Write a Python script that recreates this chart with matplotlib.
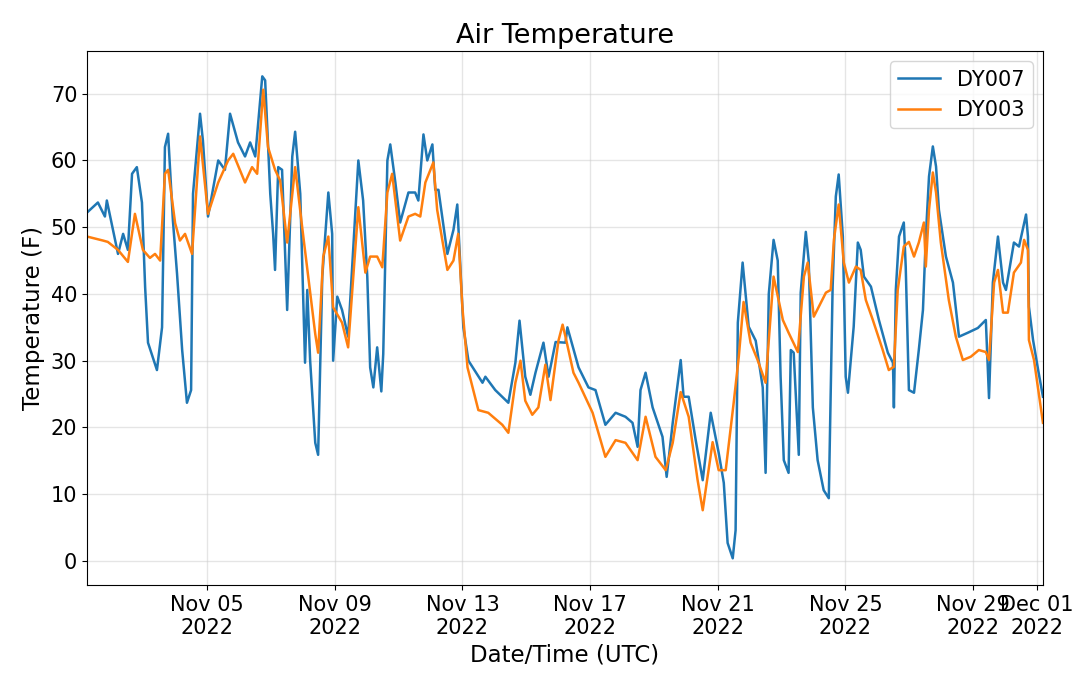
import numpy as np
import pandas as pd
import matplotlib
matplotlib.use("Agg")
import matplotlib.pyplot as plt
import matplotlib.dates as mdates

# --- Data (days since 2022-11-01 00:00 UTC, temperature in F) ---
START = pd.Timestamp("2022-11-01")

dy007_days = [0.24, 0.58, 0.80, 0.86, 1.21, 1.37, 1.52, 1.65, 1.80, 1.96,
              2.06, 2.15, 2.43, 2.59, 2.68, 2.78, 2.93, 3.06, 3.22, 3.37,
              3.50, 3.56, 3.78, 3.87, 4.03, 4.35, 4.56, 4.72, 4.97, 5.19,
              5.35, 5.51, 5.73, 5.82, 5.98, 6.07, 6.13, 6.23, 6.35, 6.51,
              6.67, 6.76, 6.92, 7.07, 7.14, 7.23, 7.39, 7.48, 7.61, 7.80,
              7.92, 7.95, 8.08, 8.23, 8.42, 8.74, 8.89, 9.02, 9.11, 9.21,
              9.33, 9.46, 9.52, 9.65, 9.74, 9.90, 10.05, 10.31, 10.52, 10.62,
              10.78, 10.90, 11.06, 11.15, 11.25, 11.53, 11.72, 11.84, 11.94, 12.03,
              12.19, 12.63, 12.72, 13.03, 13.44, 13.66, 13.79, 13.97, 14.13, 14.29,
              14.54, 14.70, 14.92, 15.23, 15.29, 15.64, 15.95, 16.17, 16.48, 16.80,
              17.11, 17.33, 17.49, 17.58, 17.74, 17.96, 18.27, 18.40, 18.59, 18.84,
              18.93, 19.09, 19.31, 19.53, 19.78, 20.03, 20.19, 20.31, 20.47, 20.56,
              20.63, 20.78, 20.97, 21.19, 21.41, 21.50, 21.60, 21.75, 21.88, 21.97,
              22.07, 22.22, 22.29, 22.38, 22.54, 22.60, 22.76, 22.85, 22.98, 23.13,
              23.32, 23.48, 23.60, 23.70, 23.79, 23.92, 24.01, 24.08, 24.17, 24.26,
              24.39, 24.48, 24.58, 24.80, 25.05, 25.33, 25.49, 25.52, 25.58, 25.68,
              25.83, 25.89, 25.99, 26.15, 26.30, 26.43, 26.52, 26.62, 26.74, 26.84,
              26.93, 27.15, 27.37, 27.56, 27.84, 28.15, 28.40, 28.50, 28.62, 28.78,
              28.94, 29.03, 29.28, 29.44, 29.66, 29.72, 29.75, 29.88, 30.04, 30.19]
dy007_temp = [52.2, 53.7, 51.6, 54.0, 46.0, 49.0, 46.6, 58.0, 59.0, 53.7,
              41.0, 32.7, 28.6, 35.0, 62.0, 64.0, 51.0, 43.0, 31.6, 23.7,
              25.6, 55.0, 67.0, 63.0, 51.6, 60.0, 58.6, 67.0, 62.7, 60.6,
              62.7, 60.6, 72.6, 72.0, 55.0, 49.0, 43.6, 59.0, 58.6, 37.6,
              60.6, 64.3, 55.0, 29.7, 40.6, 30.0, 17.7, 15.9, 42.6, 55.2,
              49.0, 30.0, 39.6, 37.6, 33.6, 60.0, 54.0, 42.6, 29.0, 26.0,
              32.0, 25.4, 31.0, 60.0, 62.4, 56.7, 50.7, 55.2, 55.2, 54.0,
              63.9, 60.0, 62.4, 55.6, 55.6, 46.0, 49.6, 53.4, 43.6, 35.0,
              30.0, 26.7, 27.6, 25.6, 23.7, 29.7, 36.0, 27.6, 24.9, 28.2,
              32.7, 27.6, 32.8, 32.7, 35.0, 29.0, 26.0, 25.6, 20.4, 22.2,
              21.6, 20.7, 17.1, 25.6, 28.2, 23.0, 18.6, 12.6, 20.7, 30.1,
              24.6, 24.6, 18.1, 12.1, 22.2, 16.2, 11.7, 2.7, 0.4, 4.6,
              35.7, 44.7, 35.1, 33.0, 26.0, 13.2, 40.0, 48.1, 45.0, 27.6,
              15.1, 13.2, 31.6, 31.2, 15.9, 40.2, 49.3, 45.0, 23.0, 15.1,
              10.6, 9.4, 41.1, 54.6, 57.9, 48.6, 27.6, 25.2, 30.1, 35.1,
              47.7, 46.6, 42.6, 41.1, 36.1, 31.2, 29.7, 23.0, 40.6, 48.6,
              50.7, 44.1, 25.6, 25.2, 31.6, 37.6, 48.6, 57.6, 62.1, 59.1,
              52.6, 45.6, 41.7, 33.6, 34.2, 34.9, 36.1, 24.4, 41.7, 48.6,
              41.7, 40.6, 47.7, 47.1, 51.9, 48.6, 38.1, 33.1, 28.6, 24.6]

dy003_days = [0.24, 0.74, 0.89, 1.21, 1.52, 1.74, 1.99, 2.21, 2.37, 2.53,
              2.68, 2.78, 3.00, 3.15, 3.31, 3.53, 3.78, 4.03, 4.35, 4.66,
              4.82, 5.19, 5.41, 5.57, 5.76, 5.91, 6.13, 6.29, 6.51, 6.76,
              6.98, 7.17, 7.39, 7.48, 7.64, 7.80, 7.95, 8.23, 8.42, 8.74,
              8.96, 9.11, 9.33, 9.49, 9.65, 9.80, 10.05, 10.31, 10.52, 10.68,
              10.84, 11.09, 11.21, 11.53, 11.72, 11.87, 12.00, 12.16, 12.50, 12.81,
              13.25, 13.44, 13.66, 13.82, 13.97, 14.19, 14.38, 14.60, 14.76, 15.01,
              15.14, 15.23, 15.48, 15.64, 16.08, 16.48, 16.80, 17.11, 17.49, 17.74,
              18.05, 18.37, 18.59, 18.84, 19.09, 19.37, 19.53, 19.84, 20.03, 20.25,
              20.50, 20.66, 20.81, 21.03, 21.25, 21.50, 21.75, 22.04, 22.22, 22.51,
              22.70, 22.82, 23.01, 23.23, 23.39, 23.54, 23.64, 23.79, 23.95, 24.11,
              24.33, 24.48, 24.64, 24.86, 25.17, 25.36, 25.52, 25.64, 25.83, 25.99,
              26.15, 26.30, 26.46, 26.52, 26.62, 26.74, 26.84, 26.99, 27.24, 27.46,
              27.68, 27.93, 28.18, 28.40, 28.50, 28.66, 28.78, 28.94, 29.09, 29.28,
              29.50, 29.60, 29.72, 29.75, 29.91, 30.19]
dy003_temp = [48.6, 48.0, 47.8, 46.6, 44.8, 52.0, 46.6, 45.4, 46.0, 45.0,
              58.0, 58.6, 50.6, 48.0, 49.0, 46.0, 63.6, 52.0, 56.7, 60.0,
              61.0, 56.7, 59.0, 58.0, 70.6, 62.0, 58.6, 57.0, 47.7, 59.0,
              50.0, 42.6, 34.0, 31.2, 45.6, 48.6, 38.0, 35.7, 32.0, 53.0,
              43.2, 45.6, 45.6, 44.0, 55.2, 58.0, 48.0, 51.6, 52.0, 51.6,
              56.7, 59.7, 52.6, 43.6, 45.0, 49.0, 38.0, 29.0, 22.6, 22.2,
              20.4, 19.2, 26.7, 30.0, 24.0, 21.9, 23.0, 29.4, 24.1, 33.0,
              35.4, 33.6, 28.2, 26.7, 22.2, 15.6, 18.1, 17.7, 15.1, 21.6,
              15.6, 13.6, 17.7, 25.3, 21.6, 12.1, 7.6, 17.8, 13.6, 13.6,
              23.7, 30.6, 38.8, 32.7, 30.1, 26.7, 42.6, 36.1, 34.2, 31.3,
              42.6, 44.7, 36.6, 38.7, 40.2, 40.6, 48.1, 53.4, 44.7, 41.7,
              44.1, 43.6, 39.1, 36.1, 31.6, 28.6, 29.1, 40.6, 47.1, 47.8,
              45.6, 47.7, 50.7, 44.1, 52.6, 58.2, 55.2, 47.7, 39.1, 33.6,
              30.1, 30.6, 31.6, 31.3, 30.1, 41.7, 43.6, 37.2, 37.2, 43.2,
              44.7, 48.1, 46.6, 33.1, 30.1, 20.7]

t007 = START + pd.to_timedelta(dy007_days, unit="D")
t003 = START + pd.to_timedelta(dy003_days, unit="D")

fig = plt.figure(figsize=(10.8, 6.77), dpi=100)
ax = fig.add_axes([0.0806, 0.1359, 0.8851, 0.7888])

ax.plot(t007, dy007_temp, color="#1f77b4", lw=1.8, label="DY007")
ax.plot(t003, dy003_temp, color="#ff7f0e", lw=1.8, label="DY003")

ax.set_xlim(t007[0], t007[-1])
ax.set_ylim(-3.6, 76.4)
ax.set_yticks(np.arange(0, 71, 10))

ax.xaxis.set_major_locator(mdates.DayLocator(bymonthday=[1, 5, 9, 13, 17, 21, 25, 29]))
ax.xaxis.set_major_formatter(mdates.DateFormatter("%b %d\n%Y"))

ax.grid(True, color="#cccccc", alpha=0.5, lw=1)
ax.tick_params(labelsize=15)
ax.set_title("Air Temperature", fontsize=19.5)
ax.set_xlabel("Date/Time (UTC)", fontsize=16.5)
ax.set_ylabel("Temperature (F)", fontsize=16.5)
ax.legend(fontsize=15, loc="upper right")

fig.savefig("out.png", dpi=100)
